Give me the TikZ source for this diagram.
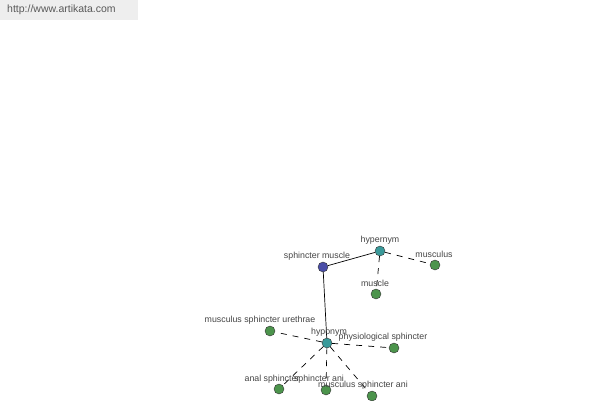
\documentclass[tikz,border=0pt]{standalone}
\usepackage{fontspec}
\setmainfont{Liberation Sans}
\usetikzlibrary{positioning}

\definecolor{termgreen}{HTML}{4C944C}
\definecolor{relteal}{HTML}{3A9A9A}
\definecolor{rootblue}{HTML}{4A4EA8}
\definecolor{hdrgrey}{HTML}{EEEEEE}
\definecolor{txtgrey}{HTML}{444444}

\tikzset{
  dot/.style={circle,draw=black!80,inner sep=0pt,minimum size=10pt},
  term/.style={dot,fill=termgreen},
  rel/.style={dot,fill=relteal},
  root/.style={dot,fill=rootblue},
  lbl/.style={inner sep=0pt,text=txtgrey,font=\fontsize{8.8}{9}\selectfont},
  link/.style={black,line width=0.7pt},
  weak/.style={black,line width=0.7pt,dash pattern=on 6pt off 6pt}
}

\begin{document}
\begin{tikzpicture}[x=1pt,y=-1pt]
    \useasboundingbox (0,0) rectangle (600,400);

    % Header
    \fill[hdrgrey] (0,0) rectangle (138,20);
    \node[anchor=west,inner sep=0pt,text=black!65,font=\fontsize{10.5}{11}\selectfont] (site) at (7,10) {http://www.artikata.com};

    % Main term and relation nodes
    \node[root] (sphincter) at (323,267) {};
    \node[rel] (hypernym) at (380,251) {};
    \node[rel] (hyponym) at (327,343) {};

    % Hypernyms
    \node[term] (musculus) at (435,265) {};
    \node[term] (muscle) at (376,294) {};

    % Hyponyms
    \node[term] (urethrae) at (270,331) {};
    \node[term] (physio) at (394,348) {};
    \node[term] (anal) at (279,389) {};
    \node[term] (ani) at (326,390) {};
    \node[term] (msani) at (372,396) {};

    % Links
    \draw[link] (sphincter) -- (hypernym);
    \draw[link] (sphincter) -- (hyponym);
    \draw[weak] (hypernym) -- (musculus);
    \draw[weak] (hypernym) -- (muscle);
    \foreach \t in {urethrae,physio,anal,ani,msani}
        \draw[weak] (hyponym) -- (\t);

    % Labels
    \node[lbl] (sphincterlbl) at (317,256) {sphincter muscle};
    \node[lbl] (hypernymlbl) at (380,240) {hypernym};
    \node[lbl] (musculuslbl) at (434,254) {musculus};
    \node[lbl] (musclelbl) at (375,283) {muscle};
    \node[lbl] (hyponymlbl) at (329,332) {hyponym};
    \node[lbl] (urethraelbl) at (260,320) {musculus sphincter urethrae};
    \node[lbl] (physiolbl) at (383,337) {physiological sphincter};
    \node[lbl] (anallbl) at (272,379) {anal sphincter};
    \node[lbl] (anilbl) at (319,379) {sphincter ani};
    \node[lbl] (msanilbl) at (363,385) {musculus sphincter ani};
\end{tikzpicture}
\end{document}
